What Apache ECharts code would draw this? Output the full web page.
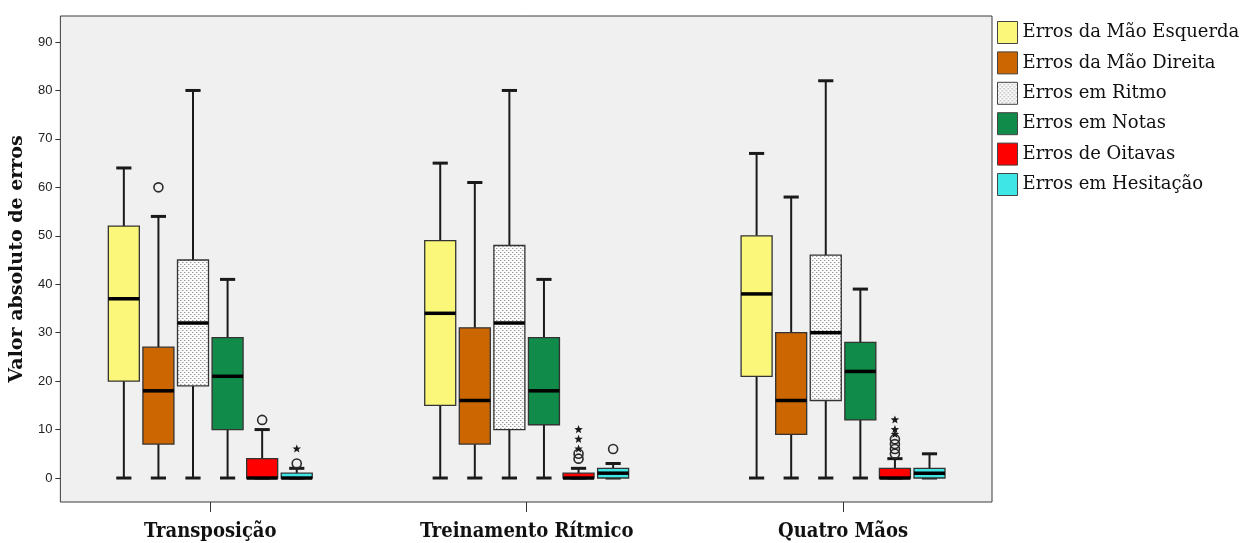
<!DOCTYPE html>
<html>
<head>
<meta charset="utf-8">
<script src="https://cdn.jsdelivr.net/npm/echarts@6/dist/echarts.min.js"></script>
<style>
  html, body { margin: 0; padding: 0; background: #ffffff; }
  #chart { width: 1248px; height: 543px; }
</style>
</head>
<body>
<div id="chart"></div>
<script>
// Groups along the x axis
const categories = ['Transposição', 'Treinamento Rítmico', 'Quatro Mãos'];

// Legend / series names
const seriesNames = [
  'Erros da Mão Esquerda',
  'Erros da Mão Direita',
  'Erros em Ritmo',
  'Erros em Notas',
  'Erros de Oitavas',
  'Erros em Hesitação'
];

// Five-number summaries per group: [min, Q1, median, Q3, max]
const esquerda  = [[0, 20, 37, 52, 64], [0, 15, 34, 49, 65], [0, 21, 38, 50, 67]];
const direita   = [[0, 7, 18, 27, 54],  [0, 7, 16, 31, 61],  [0, 9, 16, 30, 58]];
const ritmo     = [[0, 19, 32, 45, 80], [0, 10, 32, 48, 80], [0, 16, 30, 46, 82]];
const notas     = [[0, 10, 21, 29, 41], [0, 11, 18, 29, 41], [0, 12, 22, 28, 39]];
const oitavas   = [[0, 0, 0, 4, 10],    [0, 0, 0, 1, 2],     [0, 0, 0, 2, 4]];
const hesitacao = [[0, 0, 0, 1, 2],     [0, 0, 1, 2, 3],     [0, 0, 1, 2, 5]];

// Outliers (circles) and extreme values (stars) per group
const outEsquerda  = [[], [], []];
const outDireita   = [[60], [], []];
const outRitmo     = [[], [], []];
const outNotas     = [[], [], []];
const outOitavas   = [[12], [4, 5], [5, 6, 7, 8]];
const outHesitacao = [[3], [6], []];

const extEsquerda  = [[], [], []];
const extDireita   = [[], [], []];
const extRitmo     = [[], [], []];
const extNotas     = [[], [], []];
const extOitavas   = [[], [6, 8, 10], [9, 10, 12]];
const extHesitacao = [[6], [], []];

// Y axis tick values
const yTicks = [0, 10, 20, 30, 40, 50, 60, 70, 80, 90];

const summaries = [esquerda, direita, ritmo, notas, oitavas, hesitacao];
const outliers  = [outEsquerda, outDireita, outRitmo, outNotas, outOitavas, outHesitacao];
const extremes  = [extEsquerda, extDireita, extRitmo, extNotas, extOitavas, extHesitacao];

// Dotted fill used for the rhythm series
function dotPattern() {
  const c = document.createElement('canvas');
  c.width = 4; c.height = 4;
  const g = c.getContext('2d');
  g.fillStyle = '#fbfbfb';
  g.fillRect(0, 0, 4, 4);
  g.fillStyle = '#9a9a9a';
  g.fillRect(0, 0, 1, 1);
  g.fillRect(2, 2, 1, 1);
  g.fillStyle = '#d0d0d0';
  g.fillRect(1, 0, 1, 1);
  g.fillRect(3, 2, 1, 1);
  return { image: c, repeat: 'repeat' };
}
const pattern = dotPattern();

const fills = ['#fbf77b', '#cc6600', pattern, '#118b49', '#ff0000', '#3fe6e6'];

// Layout within a group (in x-axis units)
const slot = 0.1093;
const boxW = 0.098;
const capW = 0.048;

function starPoints(cx, cy, ro, ri) {
  const pts = [];
  for (let i = 0; i < 10; i++) {
    const r = i % 2 === 0 ? ro : ri;
    const a = -Math.PI / 2 + i * Math.PI / 5;
    pts.push([cx + r * Math.cos(a), cy + r * Math.sin(a)]);
  }
  return pts;
}

function makeRender(k) {
  return function (params, api) {
    const g = api.value(0);
    const xc = g + (k - 2.5) * slot;
    const vals = [api.value(1), api.value(2), api.value(3), api.value(4), api.value(5)];
    const x = api.coord([xc, 0])[0];
    const w = api.size([boxW, 0])[0];
    const cw = api.size([capW, 0])[0];
    const y = vals.map(v => api.coord([xc, v])[1]);
    const children = [];
    // whiskers
    children.push({ type: 'line', shape: { x1: x, y1: y[3], x2: x, y2: y[4] },
      style: { stroke: '#1a1a1a', lineWidth: 2 } });
    children.push({ type: 'line', shape: { x1: x, y1: y[1], x2: x, y2: y[0] },
      style: { stroke: '#1a1a1a', lineWidth: 2 } });
    // caps
    children.push({ type: 'line', shape: { x1: x - cw / 2, y1: y[4], x2: x + cw / 2, y2: y[4] },
      style: { stroke: '#1a1a1a', lineWidth: 3 } });
    children.push({ type: 'line', shape: { x1: x - cw / 2, y1: y[0], x2: x + cw / 2, y2: y[0] },
      style: { stroke: '#1a1a1a', lineWidth: 3 } });
    // box
    children.push({ type: 'rect', shape: { x: x - w / 2, y: y[3], width: w, height: y[1] - y[3] },
      style: { fill: fills[k], stroke: '#333333', lineWidth: 1.3 } });
    // median
    children.push({ type: 'line', shape: { x1: x - w / 2, y1: y[2], x2: x + w / 2, y2: y[2] },
      style: { stroke: '#000000', lineWidth: 3.5 } });
    // outliers
    outliers[k][g].forEach(function (v) {
      const p = api.coord([xc, v]);
      children.push({ type: 'circle', shape: { cx: p[0], cy: p[1], r: 4.5 },
        style: { fill: 'none', stroke: '#2a2a2a', lineWidth: 1.6 } });
    });
    extremes[k][g].forEach(function (v) {
      const p = api.coord([xc, v]);
      children.push({ type: 'polygon', shape: { points: starPoints(p[0], p[1], 4.5, 1.9) },
        style: { fill: '#1a1a1a' } });
    });
    return { type: 'group', children: children };
  };
}

const series = seriesNames.map(function (name, k) {
  return {
    name: name,
    type: 'custom',
    coordinateSystem: 'cartesian2d',
    itemStyle: { color: fills[k], borderColor: '#444', borderWidth: 1 },
    encode: { x: 0, y: [1, 2, 3, 4, 5] },
    renderItem: makeRender(k),
    data: summaries[k].map(function (s, g) { return [g].concat(s); }),
    silent: true,
    animation: false
  };
});

const chart = echarts.init(document.getElementById('chart'), null, { renderer: 'canvas' });
chart.setOption({
  animation: false,
  backgroundColor: '#ffffff',
  grid: {
    left: 60, top: 16, width: 932, height: 486,
    show: true, backgroundColor: '#f0f0f0', borderColor: '#3a3a3a', borderWidth: 1
  },
  legend: {
    orient: 'vertical',
    left: 997, top: 21,
    padding: 0,
    itemWidth: 20, itemHeight: 22, itemGap: 7.4,
    icon: 'rect',
    data: seriesNames.map(function (n, k) {
      return { name: n, itemStyle: { color: fills[k], borderColor: '#444', borderWidth: 1 } };
    }),
    textStyle: { fontFamily: 'DejaVu Serif', fontSize: 18, color: '#111' },
    selectedMode: false
  },
  xAxis: {
    type: 'value',
    position: 'bottom',
    min: -0.4739, max: 2.4708,
    axisLine: { show: false, onZero: false },
    splitLine: { show: false },
    axisTick: { show: true, customValues: [0, 1, 2], length: 10, lineStyle: { color: '#333', width: 1 } },
    axisLabel: {
      customValues: [0, 1, 2],
      formatter: function (v) { return categories[Math.round(v)]; },
      margin: 20,
      fontFamily: 'DejaVu Serif Condensed', fontWeight: 'bold', fontSize: 20, color: '#111'
    }
  },
  yAxis: {
    type: 'value',
    position: 'left',
    min: -4.95, max: 95.37,
    name: 'Valor absoluto de erros',
    nameLocation: 'middle',
    nameGap: 33,
    nameRotate: 90,
    nameTextStyle: { fontFamily: 'DejaVu Serif', fontWeight: 'bold', fontSize: 19, color: '#111' },
    axisLine: { show: false, onZero: false },
    splitLine: { show: false },
    axisTick: { show: true, customValues: yTicks, length: 5, lineStyle: { color: '#333', width: 1 } },
    axisLabel: {
      customValues: yTicks,
      margin: 8,
      fontFamily: 'Liberation Sans', fontSize: 13, color: '#222'
    }
  },
  series: series
});
</script>
</body>
</html>
